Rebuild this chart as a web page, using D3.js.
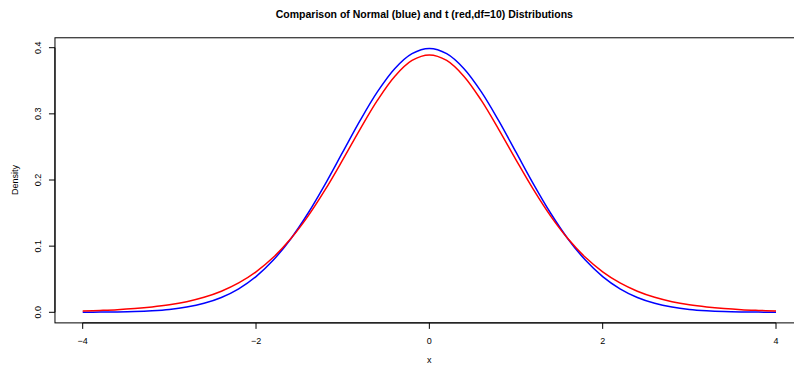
<!DOCTYPE html>
<html>
<head>
<meta charset="utf-8">
<script src="https://cdn.jsdelivr.net/npm/d3@7/dist/d3.min.js"></script>
<style>
  body { margin: 0; background: #fff; }
  svg { display: block; font-family: "Liberation Sans", Arial, sans-serif; }
</style>
</head>
<body>
<div id="chart"></div>
<script>
// x grid, -4..4 step 0.2
const xs = d3.range(41).map(i => -4 + i * 0.2);

// densities (right half, symmetric)
const normalHalf = [0.3989, 0.3910, 0.3683, 0.3332, 0.2897, 0.2420, 0.1942, 0.1497, 0.1109, 0.0790, 0.0540,
                    0.0355, 0.0224, 0.0136, 0.0079, 0.0044, 0.0024, 0.0012, 0.0006, 0.0003, 0.0001];
const tHalf = [0.3891, 0.3807, 0.3566, 0.3203, 0.2766, 0.2304, 0.1857, 0.1454, 0.1111, 0.0831, 0.0612,
               0.0444, 0.0319, 0.0227, 0.0161, 0.0114, 0.0081, 0.0057, 0.0040, 0.0029, 0.0020];

const normalY = normalHalf.slice(1).reverse().concat(normalHalf);
const tY = tHalf.slice(1).reverse().concat(tHalf);

const xTicks = [-4, -2, 0, 2, 4];
const yTicks = [0.0, 0.1, 0.2, 0.3, 0.4];

const W = 794, H = 365;

const svg = d3.select('#chart').append('svg')
    .attr('width', W).attr('height', H);

const x = d3.scaleLinear().domain([-4, 4]).range([82.7, 776]);
const y = d3.scaleLinear().domain([0, 0.4]).range([312.3, 47.7]);

// plot box (R pads 4% on each side)
const bx0 = x(-4.32), bx1 = x(4.32);
const by0 = y(-0.016), by1 = y(0.415);

svg.append('rect')
    .attr('x', bx0).attr('y', by1)
    .attr('width', bx1 - bx0).attr('height', by0 - by1)
    .attr('fill', 'none').attr('stroke', '#000').attr('stroke-width', 1);

// curves
const line = d3.line().x((d, i) => x(xs[i])).y(d => y(d)).curve(d3.curveCatmullRom);

svg.append('path').datum(normalY)
    .attr('d', line).attr('fill', 'none')
    .attr('stroke', '#0000ff').attr('stroke-width', 1.5);

svg.append('path').datum(tY)
    .attr('d', line).attr('fill', 'none')
    .attr('stroke', '#ff0000').attr('stroke-width', 1.5);

// x axis
const xAxis = svg.append('g').attr('transform', `translate(0,${by0})`);
xAxis.append('line')
    .attr('x1', x(-4)).attr('x2', x(4))
    .attr('stroke', '#000');
xAxis.selectAll('.xt').data(xTicks).join('line')
    .attr('x1', d => x(d)).attr('x2', d => x(d))
    .attr('y1', 0).attr('y2', 6)
    .attr('stroke', '#000');
xAxis.selectAll('.xl').data(xTicks).join('text')
    .attr('x', d => x(d)).attr('y', 21)
    .attr('text-anchor', 'middle')
    .attr('font-size', '9px')
    .text(d => d < 0 ? '\u2212' + Math.abs(d) : d);

// y axis
const yAxis = svg.append('g').attr('transform', `translate(${bx0},0)`);
yAxis.append('line')
    .attr('y1', y(0)).attr('y2', y(0.4))
    .attr('stroke', '#000');
yAxis.selectAll('.yt').data(yTicks).join('line')
    .attr('x1', 0).attr('x2', -6)
    .attr('y1', d => y(d)).attr('y2', d => y(d))
    .attr('stroke', '#000');
yAxis.selectAll('.yl').data(yTicks).join('text')
    .attr('transform', d => `translate(-14,${y(d)}) rotate(-90)`)
    .attr('text-anchor', 'middle')
    .attr('font-size', '9px')
    .text(d => d.toFixed(1));

// labels
svg.append('text')
    .attr('x', (bx0 + bx1) / 2 - 5).attr('y', 18)
    .attr('text-anchor', 'middle')
    .attr('font-size', '10.5px').attr('font-weight', 'bold')
    .text('Comparison of Normal (blue) and t (red,df=10) Distributions');

svg.append('text')
    .attr('x', x(0)).attr('y', 363)
    .attr('text-anchor', 'middle')
    .attr('font-size', '9px')
    .text('x');

svg.append('text')
    .attr('transform', `translate(18,${(y(0) + y(0.4)) / 2}) rotate(-90)`)
    .attr('text-anchor', 'middle')
    .attr('font-size', '9px')
    .text('Density');
</script>
</body>
</html>
